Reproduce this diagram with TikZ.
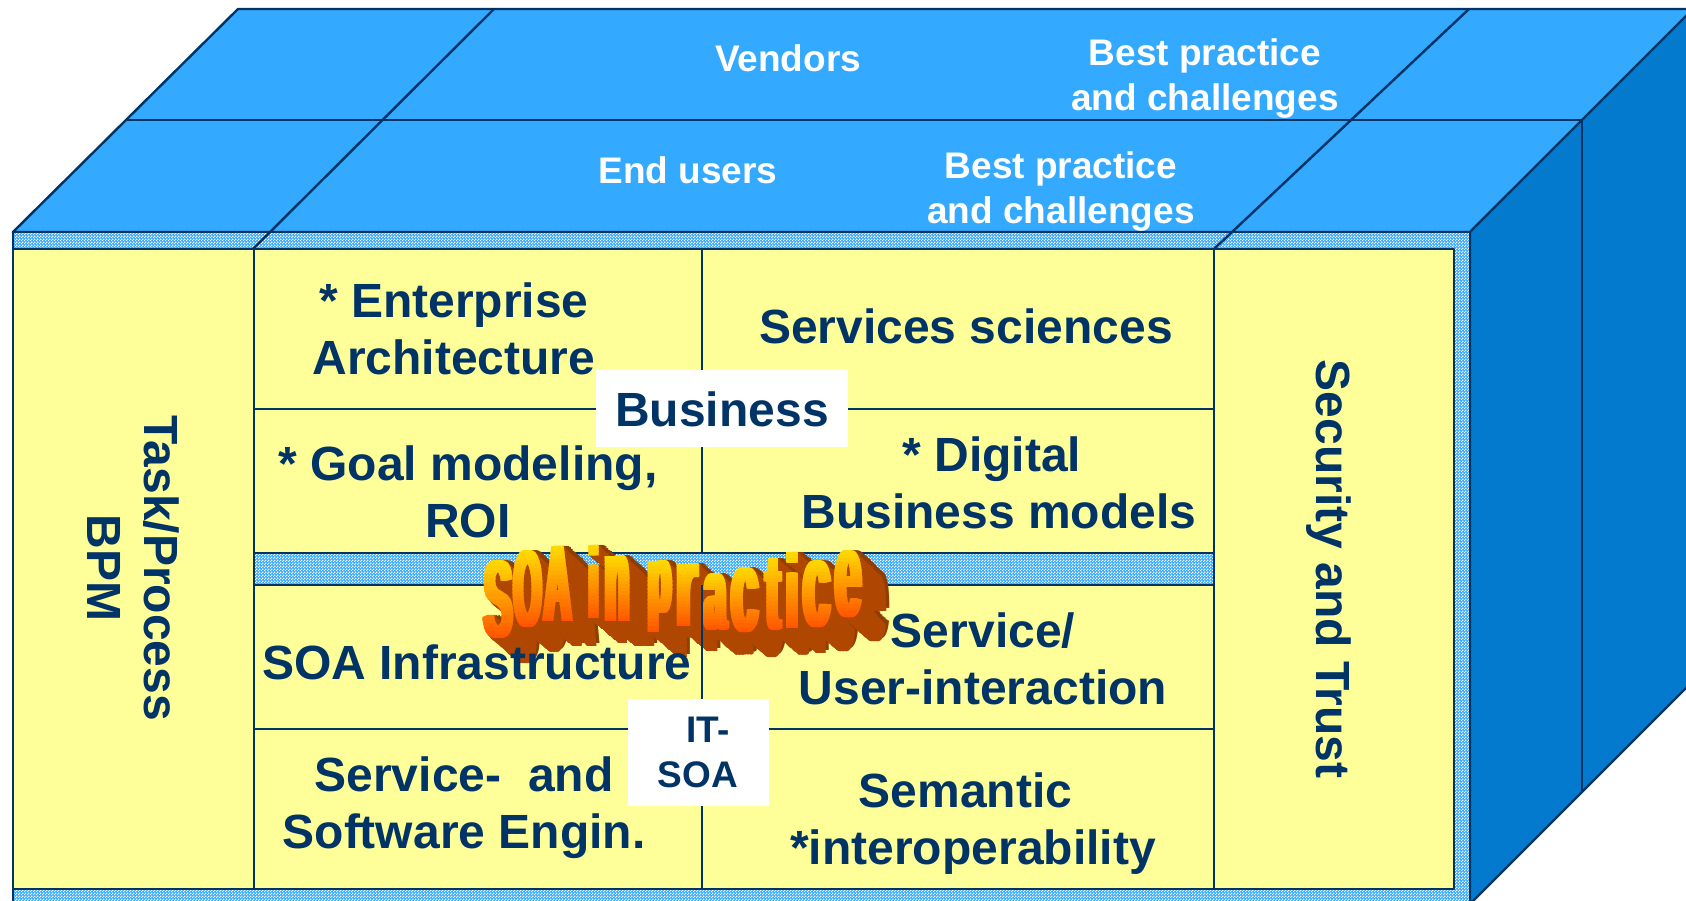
\documentclass[tikz,border=0pt]{standalone}
\usepackage{fontspec}
\setmainfont{Liberation Sans}
\usepackage{graphicx}
\usetikzlibrary{patterns}
\definecolor{navyline}{HTML}{003366}
\definecolor{roofblue}{HTML}{33A9FF}
\definecolor{sideblue}{HTML}{047ACF}
\definecolor{paneyellow}{HTML}{FFFF99}
\definecolor{soatop}{HTML}{FFDC00}
\definecolor{soabottom}{HTML}{FF5500}
\definecolor{soadark}{HTML}{8F3D00}
\definecolor{soalight}{HTML}{B04700}
\pgfdeclarepatternformonly{checkband}{\pgfpointorigin}{\pgfqpoint{3pt}{3pt}}{\pgfqpoint{3pt}{3pt}}{
  \pgfpathrectangle{\pgfpointorigin}{\pgfqpoint{1.5pt}{1.5pt}}
  \pgfpathrectangle{\pgfqpoint{1.5pt}{1.5pt}}{\pgfqpoint{1.5pt}{1.5pt}}
  \pgfusepath{fill}
}
\begin{document}
\begin{tikzpicture} [x=1pt, y=-1pt, line join=round,
    grid/.style={draw=navyline, line width=2.4pt},
    hatchband/.style={preaction={fill=roofblue}, pattern=checkband, pattern color=white},
    bigtext/.style={text=navyline, font=\fontsize{48}{57}\selectfont\bfseries, align=center, inner sep=0},
    midtext/.style={text=navyline, font=\fontsize{37}{45}\selectfont\bfseries, align=center, inner sep=0},
    rooftext/.style={text=white, font=\fontsize{37}{45}\selectfont\bfseries, align=center, inner sep=0},
    soaletter/.style={anchor=north west, inner sep=0, font=\bfseries},]
\clip (0,0) rectangle (1686,901);
\useasboundingbox (0,0) rectangle (1686,901);

% roof and side of the cube
\filldraw[grid, fill=roofblue] (13,232) -- (238,9) -- (1694,9) -- (1470,232) -- cycle;
\filldraw[grid, fill=sideblue] (1470,232) -- (1694,8) -- (1694,680) -- (1470,904) -- cycle;
\draw[grid] (125,120) -- (1582,120) -- (1582,792);

% front face
\filldraw[grid, hatchband] (13,232) rectangle (1470,910);
\filldraw[grid, fill=paneyellow] (13,249) rectangle (1454,889);
\draw[grid] (253,249) -- (494,9);
\draw[grid] (1214,249) -- (1469,9);
\filldraw[grid, hatchband] (254,553) rectangle (1214,585);
\draw[grid] (254,249) -- (254,889);
\draw[grid] (1214,249) -- (1214,889);
\draw[grid] (702,249) -- (702,553);
\draw[grid] (254,409) -- (1214,409);
\draw[grid] (254,729) -- (1214,729);

% word art, extruded by stacking copies of each letter
\def\soawords{S/484/560/28/78, O/514/550/27/77, A/544/546/27/75, i/589/545/9/73, n/605/555/24/66,
  p/648/560/23/72, r/676/563/21/63, a/704/573/22/57, c/731/567/27/65, t/766/558/14/72, i/786/552/12/76,
  c/803/560/27/67, e/835/550/26/67}
\foreach \lc/\lx/\ly/\lw/\lh in \soawords {
  \foreach \d in {32,30,...,4} {
    \pgfmathsetmacro\sw{\lw*(1-.25*\d/32)}
    \foreach \s in {-3,0,3} {
      \node[soaletter, text=soadark] at ({\lx+\s+.94*\d+3},{\ly+.78*\d-3}) {\resizebox*{\sw pt}{\lh pt}{\lc}};
    }
  }
}
\foreach \lc/\lx/\ly/\lw/\lh in \soawords {
  \foreach \d in {32,31,...,1} {
    \pgfmathsetmacro\sw{\lw*(1-.25*\d/32)}
    \foreach \s in {-3,0,3} {
      \node[soaletter, text=soalight] at ({\lx+\s+.94*\d},{\ly+.78*\d}) {\resizebox*{\sw pt}{\lh pt}{\lc}};
    }
  }
}
\foreach \lc/\lx/\ly/\lw/\lh in \soawords {
  \foreach \b in {0,...,19} {
    \pgfmathtruncatemacro\pct{\b*100/19}
    \begin{scope}
      \clip ({\lx-6},{\ly-2+\b*(\lh+4)/20}) rectangle ({\lx+\lw+6},{\ly-2+(\b+1.2)*(\lh+4)/20});
      \foreach \s in {-3,-2,-1,0,1,2,3} {
        \node[soaletter, text=soabottom!\pct!soatop] at ({\lx+\s},\ly) {\resizebox*{\lw pt}{\lh pt}{\lc}};
      }
    \end{scope}
  }
}
\draw[grid] (702,585) -- (702,889);

\node[fill=white, minimum width=252pt, minimum height=77pt, inner sep=0] (businessbox) at (722,408) {};
\node[fill=white, minimum width=141pt, minimum height=107pt, inner sep=0] (itbox) at (698,752) {};

\node[rooftext] (vendors) at (788,58) {Vendors};
\node[rooftext] (bestback) at (1205,79) {Best practice\\and challenges};
\node[rooftext] (endusers) at (688,170) {End users};
\node[rooftext] (bestfront) at (1061,192) {Best practice\\and challenges};

\node[bigtext] (enterprise) at (454,329) {* Enterprise\\Architecture};
\node[bigtext] (services) at (966,326) {Services sciences};
\node[bigtext] (business) at (722,409) {Business};
\node[bigtext] (goal) at (468,492) {* Goal modeling,\\ROI};
\node[bigtext] (digital) at (999,483) {* Digital\kern14pt\\Business models};
\node[bigtext] (infra) at (477,662) {SOA Infrastructure};
\node[bigtext] (userint) at (983,659) {Service/\\User-interaction};
\node[bigtext] (softeng) at (464,808) {Service-\ \ and\\Software Engin.};
\node[bigtext] (semantic) at (973,824) {Semantic\kern15pt\\*interoperability};
\node[midtext] (itsoa) at (698,752) {\hspace{20pt}IT-\\SOA};
\node[bigtext, rotate=-90] (task) at (133,568) {Task/Process\\BPM};
\node[bigtext, rotate=-90] (security) at (1329,569) {Security and Trust};

\end{tikzpicture}
\end{document}
